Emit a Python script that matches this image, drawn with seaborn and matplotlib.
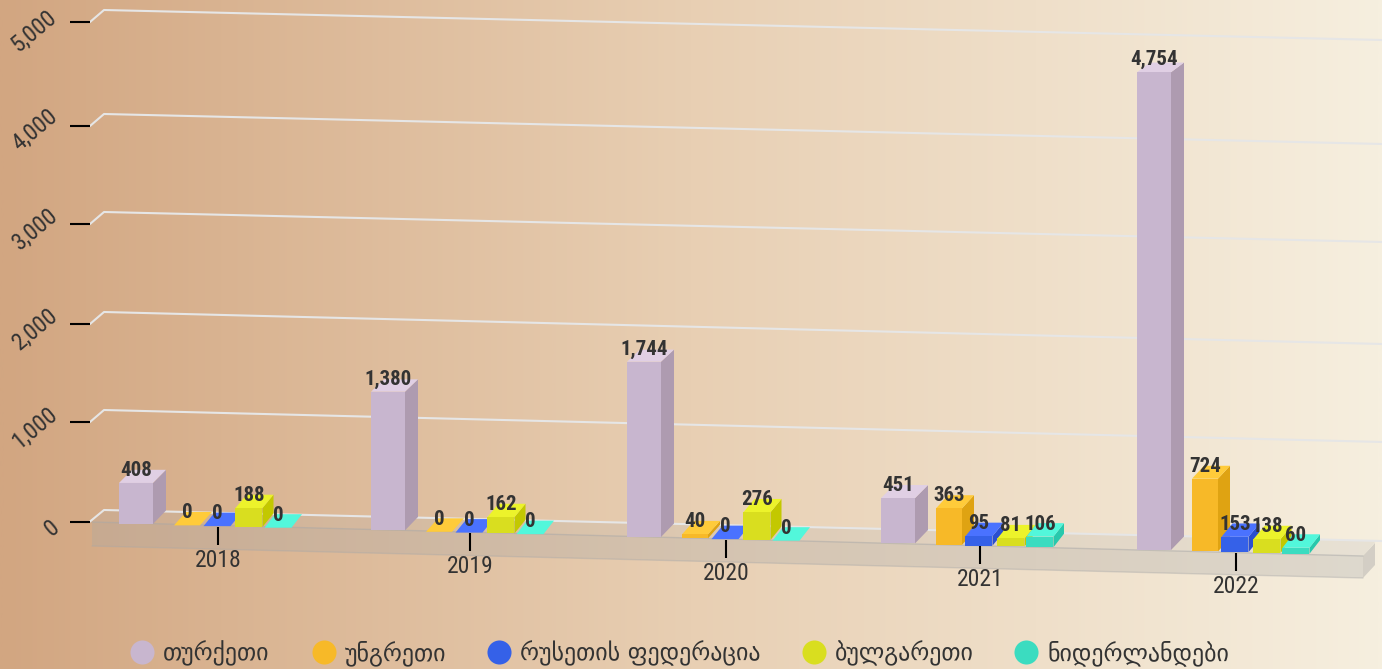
import numpy as np
import pandas as pd
import matplotlib
matplotlib.use('Agg')
import matplotlib.pyplot as plt
from matplotlib.colors import LinearSegmentedColormap
import seaborn as sns

# chart values
years = ['2018', '2019', '2020', '2021', '2022']
countries = ['თურქეთი', 'უნგრეთი', 'რუსეთის ფედერაცია', 'ბულგარეთი', 'ნიდერლანდები']
turkey = [408, 1380, 1744, 451, 4754]
hungary = [0, 0, 40, 363, 724]
russia = [0, 0, 0, 95, 153]
bulgaria = [188, 162, 276, 81, 138]
netherlands = [0, 0, 0, 106, 60]
y_ticks = [0, 1000, 2000, 3000, 4000, 5000]

# layout, in pixels of the 1382x669 picture
year_px = [218, 470, 726, 980, 1236]
series_offset = [-82, -31, -1, 31, 60]
bar_width = [34, 26, 27, 27, 27]
depth_x = [13, 12, 11, 11, 10.5]
ZERO = 521.5
K = 0.1005  # pixels per unit
tick_px = [521.5, 422, 324, 224, 126, 22]
grid_px = [510, 410, 312, 212, 114, 10]
grid_right_px = [541, 442, 344, 242, 144, 40]
label_center = [(52, 528), (35, 428), (35, 329), (35, 229), (35, 130), (33.5, 31)]
legend_x = [142, 324, 499, 814, 1026]

# styles
front = ['#c8b6cf', '#f7b928', '#3561e8', '#d9de1f', '#3bdcc0']
side = ['#ae9bb0', '#dfa312', '#2a4fd0', '#c3c800', '#28c8ac']
top = ['#e0cfe4', '#ffcb3a', '#4a72ff', '#ecf32b', '#52f7db']
text_col = '#333333'
narrow = ['Roboto Condensed', 'Liberation Sans Narrow', 'Roboto']


def val(py):
    return (ZERO - py) / K


def baseline(px):
    return 524 + 0.0256 * (px - 120)


def depth_y(v):
    # the back of a box comes closer to its front the taller it is
    return 13.5 - v * 0.0008


rows = []
for country, off, values in zip(countries, series_offset, [turkey, hungary, russia, bulgaria, netherlands]):
    for yr, xp, v in zip(years, year_px, values):
        rows.append({'country': country, 'pos': xp + off, 'value': v})
df = pd.DataFrame(rows)

sns.set_theme(style='white')
plt.rcParams['font.family'] = ['DejaVu Sans']
fig = plt.figure(figsize=(13.82, 6.69), dpi=100)
ax = fig.add_axes([0, 0, 1, 1])

sns.barplot(data=df, x='pos', y='value', hue='country', hue_order=countries, palette=front,
            native_scale=True, dodge=False, legend=False, errorbar=None, saturation=1, ax=ax, zorder=3)

# background
bg = LinearSegmentedColormap.from_list('bg', ['#d2a681', '#e8cfb3', '#f6efdf'])
ax.imshow(np.linspace(0, 1, 512).reshape(1, -1), cmap=bg, aspect='auto', zorder=0,
          extent=(0, 1382, val(669), val(0)))
ax.set_xlim(0, 1382)
ax.set_ylim(val(669), val(0))

# floor
floor_top = [(92, 522), (106, 510), (1376, 541), (1363, 556)]
floor_front = [(92, 522), (1363, 556), (1363, 578), (92, 546)]
floor_end = [(1363, 556), (1375, 543), (1375, 565), (1363, 578)]
ax.fill(*zip(*[(x, val(y)) for x, y in floor_top]), color='#b0b0b0', alpha=0.2, lw=0, zorder=1)
ax.fill(*zip(*[(x, val(y)) for x, y in floor_front]), color='#a8a8a8', alpha=0.3, lw=0, zorder=1)
ax.fill(*zip(*[(x, val(y)) for x, y in floor_end]), color='#a0a0a0', alpha=0.4, lw=0, zorder=1)
ax.plot([92, 1363], [val(522), val(556)], color='#a8a8a8', alpha=0.5, lw=1, zorder=1.2)
ax.plot([92, 1363], [val(546), val(578)], color='#a8a8a8', alpha=0.4, lw=1, zorder=1.2)

# value axis
for t, ty, gy, gr, (cx, cy) in zip(y_ticks, tick_px, grid_px, grid_right_px, label_center):
    ax.plot([70, 90], [val(ty), val(ty)], color='black', lw=1.5, zorder=2, solid_capstyle='butt')
    ax.plot([90, 104, 1382], [val(ty), val(gy), val(gr)], color='#e6e6e6', lw=1.5, zorder=1.5)
    ax.text(cx, val(cy), f'{t:,}', family=narrow, fontsize=17, color=text_col, rotation=40,
            ha='center', va='center', zorder=10)

# turn the flat bars into boxes standing on the sloped floor
for j, container in enumerate(ax.containers):
    for i, bar in enumerate(container):
        v = bar.get_height()
        cx = bar.get_x() + bar.get_width() / 2
        w = bar_width[j]
        x0, x1 = cx - w / 2, cx + w / 2
        base = baseline(x0)
        bar.set_x(x0)
        bar.set_width(w)
        bar.set_y(val(base))
        bar.set_linewidth(0)
        z = 3 + j * 0.1
        bar.set_zorder(z)
        y0 = val(base)
        y1 = y0 + v
        dx = depth_x[j]
        dy0, dy1 = depth_y(0) / K, depth_y(v) / K
        ax.fill([x1, x1 + dx, x1 + dx, x1], [y0, y0 + dy0, y1 + dy1, y1], color=side[j], lw=0, zorder=z - 0.01)
        ax.fill([x0, x1, x1 + dx, x0 + dx], [y1, y1, y1 + dy1, y1 + dy1], color=top[j], lw=0, zorder=z - 0.01)
        ax.text(cx, y1 + 12.5 / K, f'{int(v):,}', family=narrow, fontsize=15, fontweight='bold',
                color=text_col, ha='center', va='center', zorder=10)

# category ticks
for yr, xp in zip(years, year_px):
    b = baseline(xp)
    ax.plot([xp, xp], [val(b), val(b + 18)], color='black', lw=1.5, zorder=9, solid_capstyle='butt')
    ax.text(xp, val(b + 33.5), yr, family=narrow, fontsize=17, color=text_col, ha='center', va='center', zorder=10)

# legend
for lx, name, c in zip(legend_x, countries, front):
    ax.scatter([lx], [val(652)], s=300, color=c, lw=0, zorder=10)
    ax.text(lx + 21, val(653), name, fontsize=17.2, color=text_col, ha='left', va='center', zorder=10)

ax.axis('off')
fig.savefig('out.png', dpi=100)
